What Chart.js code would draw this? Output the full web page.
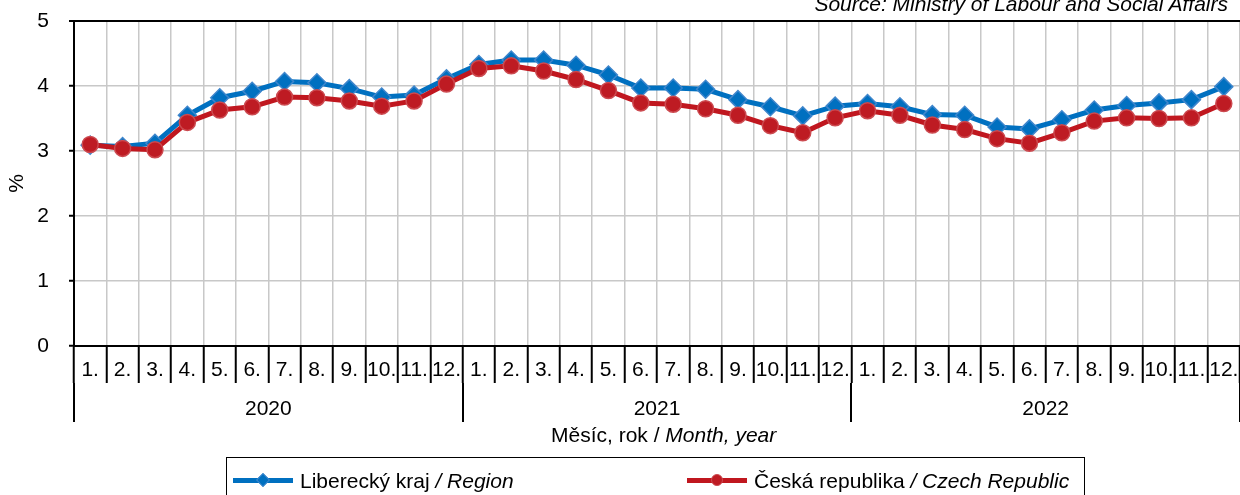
<!DOCTYPE html>
<html>
<head>
<meta charset="utf-8">
<script src="https://cdn.jsdelivr.net/npm/chart.js@4.4.0/dist/chart.umd.min.js"></script>
<style>
body{margin:0;background:#fff;font-family:"Liberation Sans",Arial,sans-serif;color:#000;}
#wrap{position:relative;width:1240px;height:495px;overflow:hidden;}
#source{position:absolute;right:12px;top:-7px;font-size:21px;line-height:21px;font-style:italic;white-space:nowrap;}
#xtitle{position:absolute;left:551px;top:422px;font-size:21px;line-height:25px;white-space:nowrap;}
#legend{position:absolute;left:226px;top:457px;width:857px;height:60px;border:1.5px solid #000;font-size:21px;}
.item{position:absolute;top:10px;line-height:25px;white-space:nowrap;}
.sample{display:inline-block;position:relative;width:60px;height:25px;margin-right:7px;vertical-align:top;}
.sample b{position:absolute;left:0;top:10px;width:60px;height:5px;}
.sample i{position:absolute;}
.blue b{background:#0070c0;}
.blue i{left:25px;top:7px;width:8px;height:8px;background:#0070c0;border:1px solid #3f86cc;transform:rotate(45deg);}
.red b{background:#c0171f;}
.red i{left:24px;top:6px;width:10px;height:10px;border-radius:50%;background:#be1b23;border:1px solid #cc4a50;}
</style>
</head>
<body>
<div id="wrap">
<canvas id="chart" width="1240" height="495"></canvas>
<div id="source">Source: Ministry of Labour and Social Affairs</div>
<div id="xtitle">Měsíc, rok / <i>Month, year</i></div>
<div id="legend">
<span class="item" style="left:6px"><span class="sample blue"><b></b><i></i></span>Liberecký kraj <i>/ Region</i></span>
<span class="item" style="left:460px"><span class="sample red"><b></b><i></i></span>Česká republika <i>/ Czech Republic</i></span>
</div>
</div>
<script>
const months = ["1.","2.","3.","4.","5.","6.","7.","8.","9.","10.","11.","12.",
"1.","2.","3.","4.","5.","6.","7.","8.","9.","10.","11.","12.",
"1.","2.","3.","4.","5.","6.","7.","8.","9.","10.","11.","12."]
const years = ["2020","2021","2022"]

const liberec = [3.09,3.07,3.12,3.55,3.82,3.92,4.07,4.05,3.96,3.83,3.86,4.11,
4.33,4.40,4.40,4.32,4.17,3.97,3.97,3.95,3.79,3.68,3.54,3.69,
3.73,3.68,3.56,3.55,3.37,3.34,3.48,3.63,3.70,3.74,3.79,3.99]

const czech = [3.10,3.04,3.02,3.44,3.63,3.68,3.83,3.82,3.77,3.69,3.77,4.03,
4.27,4.31,4.23,4.10,3.93,3.74,3.72,3.65,3.55,3.39,3.28,3.51,
3.62,3.55,3.40,3.33,3.19,3.12,3.28,3.46,3.51,3.50,3.51,3.73]

const yMin = 0
const yMax = 5

const font = {family:"'Liberation Sans', Arial, sans-serif", size:21}

// horizontal axes: no extra side padding so the plot runs to the right edge
const noSidePad = (s, h) => { s.height = h; s.paddingLeft = 0; s.paddingRight = 0 }

new Chart(document.getElementById("chart"), {
type:"line",
data:{
labels:months,
datasets:[
{
label:"Liberecký kraj / Region",
data:liberec,
xAxisID:"x",
borderColor:"#0070c0",
borderWidth:5,
pointStyle:"rectRot",
pointRadius:9,
pointBackgroundColor:"#0070c0",
pointBorderColor:"#3f86cc",
pointBorderWidth:1.5,
tension:0,
order:2
},
{
label:"Česká republika / Czech Republic",
data:czech,
xAxisID:"x",
borderColor:"#c0171f",
borderWidth:5,
pointStyle:"circle",
pointRadius:8,
pointBackgroundColor:"#be1b23",
pointBorderColor:"#cc4a50",
pointBorderWidth:1.5,
tension:0,
order:1
}
]
},
options:{
responsive:false,
animation:false,
devicePixelRatio:1,
layout:{autoPadding:false,padding:{top:21,right:-2,bottom:73,left:0}},
plugins:{legend:{display:false},tooltip:{enabled:false}},
scales:{
x:{
type:"category",
position:"bottom",
weight:0,
offset:true,
grid:{offset:true,color:"#c8c8c8",lineWidth:1.5,tickColor:"#000",tickWidth:2,tickLength:37},
border:{color:"#000",width:2},
ticks:{font:font,color:"#000",padding:-25,maxRotation:0,autoSkip:false},
afterFit:s => noSidePad(s, 37)
},
x2:{
type:"category",
position:"bottom",
weight:1,
labels:years,
offset:true,
grid:{offset:true,drawOnChartArea:false,color:"#000",lineWidth:2,tickColor:"#000",tickWidth:2,tickLength:39},
border:{display:false},
ticks:{font:font,color:"#000",padding:-25,maxRotation:0},
afterFit:s => noSidePad(s, 39)
},
y:{
min:yMin,
max:yMax,
ticks:{stepSize:1,font:font,color:"#000",padding:20},
grid:{
color:c => c.tick && c.tick.value === yMax ? "#000" : "#c8c8c8",
lineWidth:c => c.tick && c.tick.value === yMax ? 2 : 1.5,
tickColor:"#000",tickWidth:2,tickLength:5
},
border:{color:"#000",width:2},
title:{display:true,text:"%",font:font,color:"#000",padding:{top:5,bottom:0}},
afterFit:s => { s.width = 74; s.paddingTop = 0; s.paddingBottom = 0 }
}
}
}
})
</script>
</body>
</html>
